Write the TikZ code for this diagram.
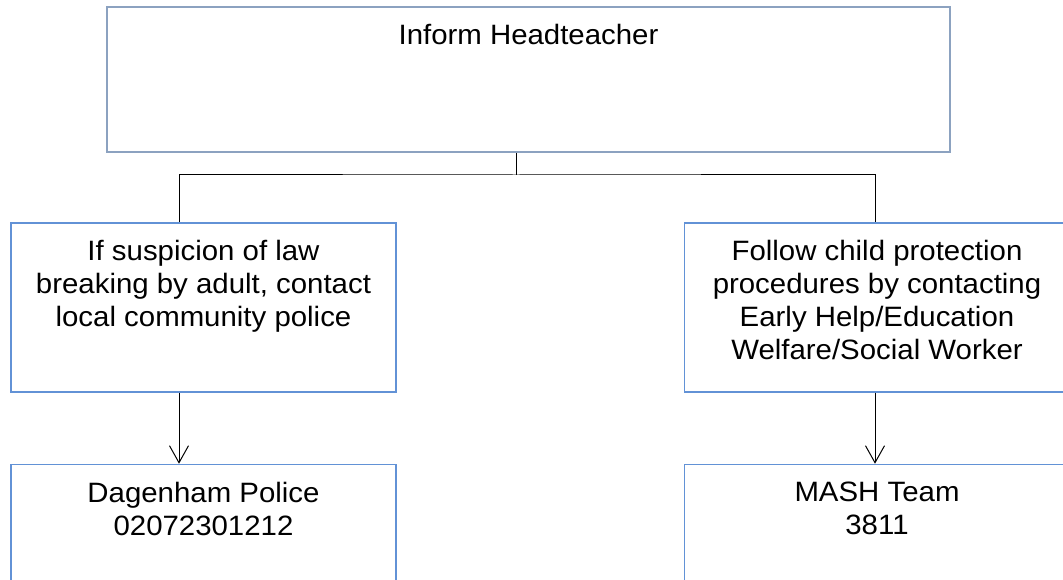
\documentclass[tikz,border=0pt]{standalone}
\usepackage{fontspec}
\setmainfont{Liberation Sans}[FakeStretch=1.05]
\usepackage{xcolor}
\definecolor{boxblue}{RGB}{98,146,214}
\definecolor{topgrey}{RGB}{140,162,192}
\usepackage{tikz}
\usetikzlibrary{arrows.meta, positioning, calc}
\tikzstyle{block} = [draw=boxblue, line width=1.5pt, rectangle, minimum width=385pt, minimum height=169pt]
\tikzstyle{caption} = [anchor=north, inner sep=0pt, yshift=-18pt, align=center, font=\fontsize{28}{33}\selectfont]
\tikzstyle{link} = [line width=1pt]

\begin{document}
\begin{tikzpicture}[x=1pt, y=1pt]
    \clip (0,0) rectangle (1063,580);

    % head block
    \node[block, draw=topgrey, line width=2pt, minimum width=843pt, minimum height=145pt,
        label={[caption, name=headtxt]north:Inform Headteacher}] (head) at (528.5,500.5) {};

    % branches
    \node[block, label={[caption, name=lefttxt]north:{If suspicion of law\\breaking by adult, contact\\local community police}}]
        (left) at (203.5,272.5) {};
    \node[block, right=287pt of left,
        label={[caption, name=righttxt]north:{Follow child protection\\procedures by contacting\\Early Help/Education\\Welfare/Social Worker}}]
        (right) {};

    % contacts
    \node[block, below=71pt of left,
        label={[caption, name=policetxt]north:{Dagenham Police\\02072301212}}] (police) {};
    \node[block, below=71pt of right,
        label={[caption, name=mashtxt]north:{MASH Team\\3811}}] (mash) {};

    % connectors
    \coordinate (split) at (516,405);
    \coordinate (lx) at (179,0);
    \coordinate (rx) at (875,0);
    \draw[link] (split |- head.south) -- (split);
    \draw[link] (lx |- left.north) |- (split) -| (rx |- right.north);
    \draw[link, -{Straight Barb[length=17pt, width=19pt]}]
        (lx |- left.south) -- (lx |- police.north);
    \draw[link, -{Straight Barb[length=17pt, width=19pt]}]
        (rx |- right.south) -- (rx |- mash.north);
\end{tikzpicture}
\end{document}
